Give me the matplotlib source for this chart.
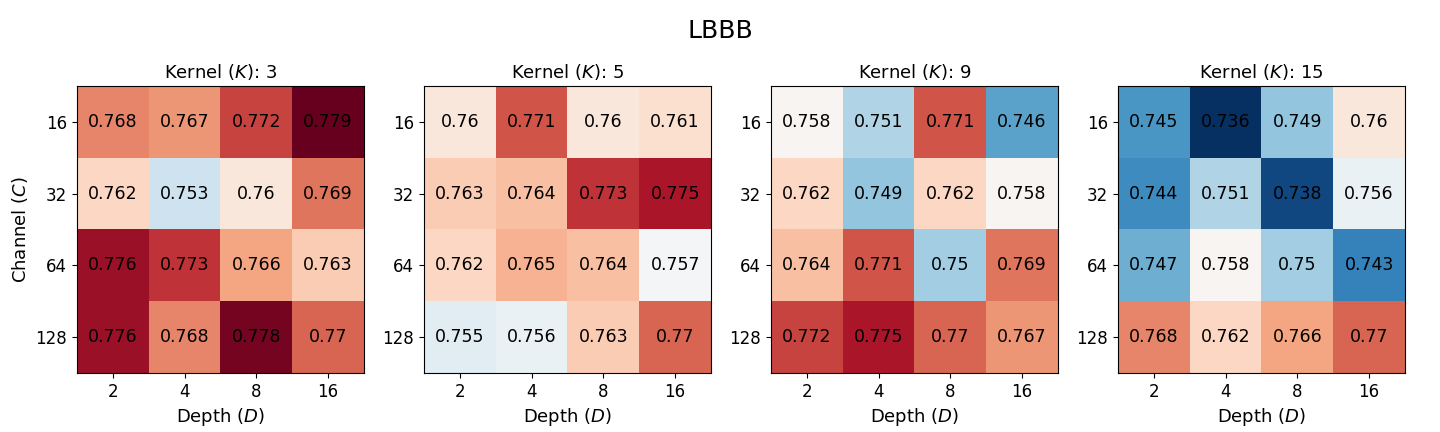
import numpy as np
import matplotlib
matplotlib.use("Agg")
import matplotlib.pyplot as plt

depths = ["2", "4", "8", "16"]
channels = ["16", "32", "64", "128"]
kernels = [3, 5, 9, 15]

k3 = [[0.768, 0.767, 0.772, 0.779],
      [0.762, 0.753, 0.76, 0.769],
      [0.776, 0.773, 0.766, 0.763],
      [0.776, 0.768, 0.778, 0.77]]
k5 = [[0.76, 0.771, 0.76, 0.761],
      [0.763, 0.764, 0.773, 0.775],
      [0.762, 0.765, 0.764, 0.757],
      [0.755, 0.756, 0.763, 0.77]]
k9 = [[0.758, 0.751, 0.771, 0.746],
      [0.762, 0.749, 0.762, 0.758],
      [0.764, 0.771, 0.75, 0.769],
      [0.772, 0.775, 0.77, 0.767]]
k15 = [[0.745, 0.736, 0.749, 0.76],
       [0.744, 0.751, 0.738, 0.756],
       [0.747, 0.758, 0.75, 0.743],
       [0.768, 0.762, 0.766, 0.77]]

grids = [k3, k5, k9, k15]
vmin = min(np.min(g) for g in grids)
vmax = max(np.max(g) for g in grids)

fig = plt.figure(figsize=(14.4, 4.32), dpi=100)
fig.suptitle("LBBB", fontsize=18, y=0.955)

left0 = 77 / 1440
step = 347 / 1440
w = 287 / 1440
b = 59 / 432
h = 287 / 432

for i, (k, g) in enumerate(zip(kernels, grids)):
    ax = fig.add_axes([left0 + i * step, b, w, h])
    arr = np.array(g)
    ax.imshow(arr, cmap="RdBu_r", vmin=vmin, vmax=vmax, aspect="auto")
    for r in range(arr.shape[0]):
        for c in range(arr.shape[1]):
            ax.text(c, r, f"{arr[r, c]:g}", ha="center", va="center",
                    color="black", fontsize=12.5)
    ax.set_xticks(range(len(depths)))
    ax.set_xticklabels(depths)
    ax.set_yticks(range(len(channels)))
    ax.set_yticklabels(channels)
    ax.tick_params(labelsize=12)
    ax.set_title(f"Kernel ($K$): {k}", fontsize=13)
    ax.set_xlabel("Depth ($D$)", fontsize=13)
    if i == 0:
        ax.set_ylabel("Channel ($C$)", fontsize=13)

fig.savefig("out.png", dpi=100)
